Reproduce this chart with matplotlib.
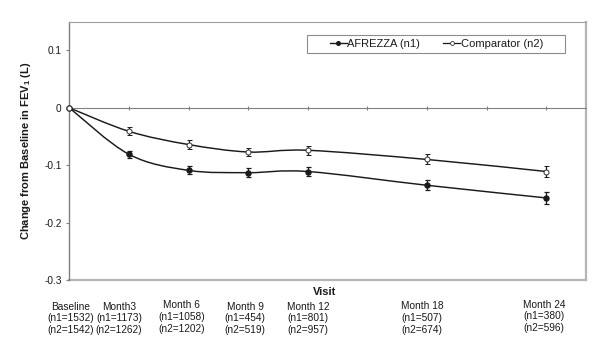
import numpy as np
import matplotlib
matplotlib.use("Agg")
import matplotlib.pyplot as plt
from matplotlib.path import Path
from matplotlib.patches import PathPatch, Rectangle
from matplotlib.lines import Line2D
from matplotlib.transforms import blended_transform_factory

plt.rcParams['font.family'] = ['Liberation Sans', 'DejaVu Sans']
plt.rcParams['mathtext.fontset'] = 'custom'
plt.rcParams['mathtext.rm'] = 'Liberation Sans'
plt.rcParams['mathtext.bf'] = 'Liberation Sans:bold'

# visit month and patient counts
months = [0, 3, 6, 9, 12, 18, 24]
visit_names = ["Baseline", "Month3", "Month 6", "Month 9", "Month 12", "Month 18", "Month 24"]
n1_counts = [1532, 1173, 1058, 454, 801, 507, 380]
n2_counts = [1542, 1262, 1202, 519, 957, 674, 596]

# change from baseline in FEV1 (L)
afrezza = [0.0, -0.081, -0.109, -0.113, -0.111, -0.135, -0.157]
afrezza_err = [0.0, 0.0064, 0.0072, 0.0084, 0.0078, 0.009, 0.0104]
comparator = [0.0, -0.041, -0.064, -0.077, -0.074, -0.090, -0.111]
comparator_err = [0.0, 0.007, 0.0075, 0.0078, 0.0075, 0.0087, 0.0098]

y_ticks = [-0.3, -0.2, -0.1, 0, 0.1]
y_tick_labels = ["-0.3", "-0.2", "-0.1", "0", "0.1"]


def smooth_path(x, y):
    # excel style smoothed line: bezier segments through every point
    pts = np.column_stack([x, y])
    n = len(pts)
    verts = [pts[0]]
    codes = [Path.MOVETO]
    for i in range(n - 1):
        p0 = pts[max(i - 1, 0)]
        p1 = pts[i]
        p2 = pts[i + 1]
        p3 = pts[min(i + 2, n - 1)]
        verts += [p1 + (p2 - p0) / 6, p2 - (p3 - p1) / 6, p2]
        codes += [Path.CURVE4] * 3
    return Path(verts, codes)


fig = plt.figure(figsize=(6.12, 3.56), dpi=100)
ax = fig.add_axes([69.3 / 612, 1 - 280 / 356, (586 - 69.3) / 612, (280 - 21.7) / 356])

line_col = "#1a1a1a"
ax.add_patch(PathPatch(smooth_path(months, comparator), fill=False, edgecolor=line_col, lw=1.05, zorder=2))
ax.add_patch(PathPatch(smooth_path(months, afrezza), fill=False, edgecolor=line_col, lw=1.05, zorder=2))

ax.errorbar(months, afrezza, yerr=afrezza_err, fmt="o", ms=3.6, mfc=line_col, mec=line_col,
            ecolor=line_col, elinewidth=0.9, capsize=1.8, capthick=0.9, zorder=3, clip_on=False)
ax.errorbar(months, comparator, yerr=comparator_err, fmt="o", ms=3.6, mfc="white", mec="#333333",
            mew=0.7, ecolor=line_col, elinewidth=0.9, capsize=1.8, capthick=0.9, zorder=4, clip_on=False)

ax.set_xlim(0, 26)
ax.set_ylim(-0.3, 0.15)

# spines: zero line acts as the x axis, gray plot frame around
ax.spines['bottom'].set_position(('data', 0))
ax.spines['bottom'].set_color("#808080")
ax.spines['bottom'].set_linewidth(0.8)
ax.spines['left'].set_color("#808080")
ax.spines['left'].set_linewidth(1.0)
ax.spines['top'].set_color("#a0a0a0")
ax.spines['top'].set_linewidth(0.8)
ax.spines['right'].set_color("#b5b5b5")
ax.spines['right'].set_linewidth(1.6)
ax.plot([0, 1], [0, 0], transform=ax.transAxes, color="#b5b5b5", lw=1.6, clip_on=False, zorder=1)

ax.set_xticks(range(0, 25, 3))
ax.tick_params(axis='x', direction='inout', length=3.5, width=0.8, color="#808080", labelbottom=False)
ax.set_yticks(y_ticks)
ax.set_yticklabels(y_tick_labels)
ax.tick_params(axis='y', direction='out', length=2.5, width=0.8, color="#808080", pad=3,
               labelsize=7.3, labelcolor="#1a1a1a")

ax.set_ylabel(r"Change from Baseline in FEV$_\mathbf{1}$ (L)", fontsize=8, fontweight="bold", color="#1a1a1a")
ax.yaxis.set_label_coords(-0.0703, 0.5)

# visit labels under the plot
shifts = [0.05, -0.5, -0.35, -0.15, 0.0, -0.25, -0.1]
raise_px = [0, 0, 1.5, 0, 0, 0.5, 2]
trans = blended_transform_factory(ax.transData, fig.transFigure)
for i in range(len(months)):
    label = f"{visit_names[i]}\n(n1={n1_counts[i]})\n(n2={n2_counts[i]})"
    ax.text(months[i] + shifts[i], 1 - (301.5 - raise_px[i]) / 356, label, transform=trans,
            ha="center", va="top", multialignment="center", fontsize=7.3, color="#1a1a1a",
            linespacing=1.22, clip_on=False)

fig.text(325 / 612, 1 - 292.3 / 356, "Visit", ha="center", va="center", fontsize=8,
         fontweight="bold", color="#1a1a1a")

# legend box drawn separately so the padding can match
bx0 = (307.3 - 69.3) / 516.7
by0 = (280 - 53) / 258.3
bw = (565 - 307.3) / 516.7
bh = (53 - 35.3) / 258.3
ax.add_patch(Rectangle((bx0, by0), bw, bh, transform=ax.transAxes, facecolor="white",
                       edgecolor="#8c8c8c", lw=0.8, zorder=4.5, clip_on=False))

handles = [
    Line2D([], [], color=line_col, lw=1.0, marker="o", ms=2.6, mfc=line_col, mec=line_col),
    Line2D([], [], color=line_col, lw=0.9, marker="o", ms=2.8, mfc="white", mec="#333333", mew=0.6),
]
leg = ax.legend(handles, ["AFREZZA (n1)", "Comparator (n2)"], ncol=2, loc="center left",
                bbox_to_anchor=((330 - 69.3) / 516.7, (280 - 44.15) / 258.3), fontsize=8,
                handlelength=1.5, handletextpad=0.05, columnspacing=2.1, borderpad=0,
                borderaxespad=0, frameon=False)
leg.set_zorder(5)
for t in leg.get_texts():
    t.set_color("#1a1a1a")

fig.savefig("out.png", dpi=100)
